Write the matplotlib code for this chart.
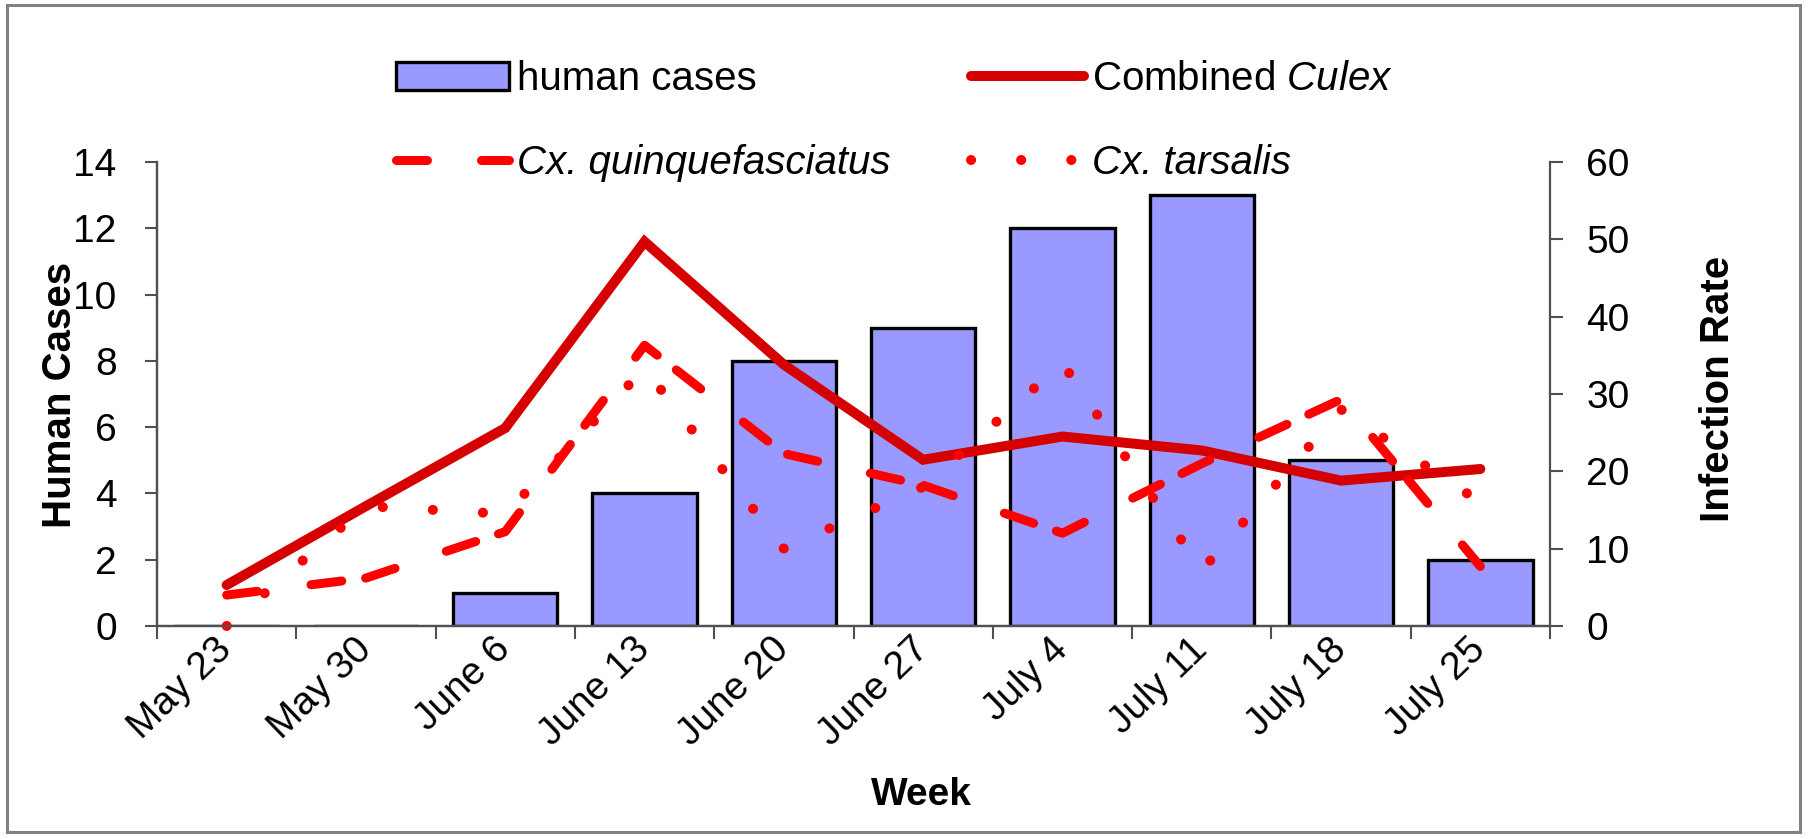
import numpy as np
import matplotlib
matplotlib.use("Agg")
import matplotlib.pyplot as plt
from matplotlib.patches import Rectangle

plt.rcParams['font.family'] = ['Liberation Sans', 'DejaVu Sans']
plt.rcParams['mathtext.fontset'] = 'custom'
plt.rcParams['mathtext.rm'] = 'Liberation Sans'
plt.rcParams['mathtext.it'] = 'Liberation Sans:italic'
plt.rcParams['lines.scale_dashes'] = False

# --- data ---
weeks = ['May 23', 'May 30', 'June 6', 'June 13', 'June 20',
         'June 27', 'July 4', 'July 11', 'July 18', 'July 25']
human_cases = [0, 0, 1, 4, 8, 9, 12, 13, 5, 2]
combined_culex = [5.3, 15.5, 25.6, 49.7, 33.8, 21.5, 24.5, 22.7, 18.8, 20.3]
cx_quinque = [4.0, 6.2, 12.2, 36.3, 22.3, 18.2, 12.0, 21.0, 29.3, 7.7]
cx_tarsalis = [0.0, 15.5, 14.5, 33.3, 10.0, 18.0, 34.0, 7.2, 28.0, 16.0]

x = np.arange(len(weeks))
axis_col = '#505050'

fig = plt.figure(figsize=(18.10, 8.39), dpi=100)
ax = fig.add_axes([157/1810, 1 - 626/839, (1550-157)/1810, (626-162)/839])
ax2 = ax.twinx()

bars = ax.bar(x, human_cases, width=0.75, color='#9999FF', edgecolor='black',
              linewidth=2.4, label='human cases', zorder=2)

l_culex, = ax2.plot(x, combined_culex, color='#D50000', lw=7.2,
                    solid_capstyle='round', solid_joinstyle='miter', clip_on=False,
                    label='Combined $\\mathit{Culex}$')
l_quin, = ax2.plot(x, cx_quinque, color='#FF0000', lw=6.5,
                   linestyle=(0, (22.3, 38.9, 22.3, 17.3)), dash_capstyle='round',
                   clip_on=False, label='Cx. quinquefasciatus')
l_tars, = ax2.plot(x, cx_tarsalis, color='#FF0000', lw=7.2,
                   linestyle=(0, (0.1, 36)), dash_capstyle='round',
                   clip_on=False, label='Cx. tarsalis')

ax.set_xlim(-0.5, len(weeks) - 0.5)
ax.set_ylim(0, 14)
ax.set_yticks(np.arange(0, 15, 2))
ax2.set_ylim(0, 60)
ax2.set_yticks(np.arange(0, 61, 10))

# category boundaries as ticks, labels at centres
ax.set_xticks(np.arange(len(weeks) + 1) - 0.5)
ax.set_xticklabels([])
ax.set_xticks(x, minor=True)
ax.set_xticklabels(weeks, minor=True, rotation=44, ha='right', va='center',
                   rotation_mode='anchor', fontsize=28)
ax.tick_params(axis='x', which='major', direction='out', length=9, width=1.5, color=axis_col)
ax.tick_params(axis='x', which='minor', length=0, pad=13)
ax.tick_params(axis='y', direction='out', length=9, width=1.5, color=axis_col,
               labelsize=28, pad=20)
ax2.tick_params(axis='y', direction='out', length=9, width=1.5, color=axis_col,
                labelsize=28, pad=17)

for a in (ax, ax2):
    a.spines['top'].set_visible(False)
    for s in ('left', 'bottom', 'right'):
        a.spines[s].set_color(axis_col)
        a.spines[s].set_linewidth(1.6)
ax.spines['right'].set_visible(False)
ax.set_zorder(ax2.get_zorder() - 1)
ax2.patch.set_visible(False)

fig.text(60/1810, 1 - 395/839, 'Human Cases', rotation=90, fontsize=29,
         fontweight='bold', ha='center', va='center')
fig.text(1718/1810, 1 - 389/839, 'Infection Rate', rotation=90, fontsize=29,
         fontweight='bold', ha='center', va='center')
fig.text(921/1810, 1 - 795/839, 'Week', fontsize=28, fontweight='bold',
         ha='center', va='center')

leg = fig.legend(handles=[bars, l_quin, l_culex, l_tars],
                 labels=['human cases', 'Cx. quinquefasciatus',
                         'Combined $\\mathit{Culex}$', 'Cx. tarsalis'],
                 ncol=2, loc='upper left', bbox_to_anchor=(396/1810, 1 - 60/839),
                 frameon=False, fontsize=29, handlelength=2.8, handletextpad=0.2,
                 columnspacing=2.0, labelspacing=1.15, borderpad=0, borderaxespad=0)
for t in leg.get_texts():
    if t.get_text().startswith('Cx.'):
        t.set_fontstyle('italic')

fig.add_artist(Rectangle((0.004, 0.008), 0.9905, 0.986, transform=fig.transFigure,
                         fill=False, edgecolor='#808080', linewidth=2.2))

fig.savefig('out.png', dpi=100)
